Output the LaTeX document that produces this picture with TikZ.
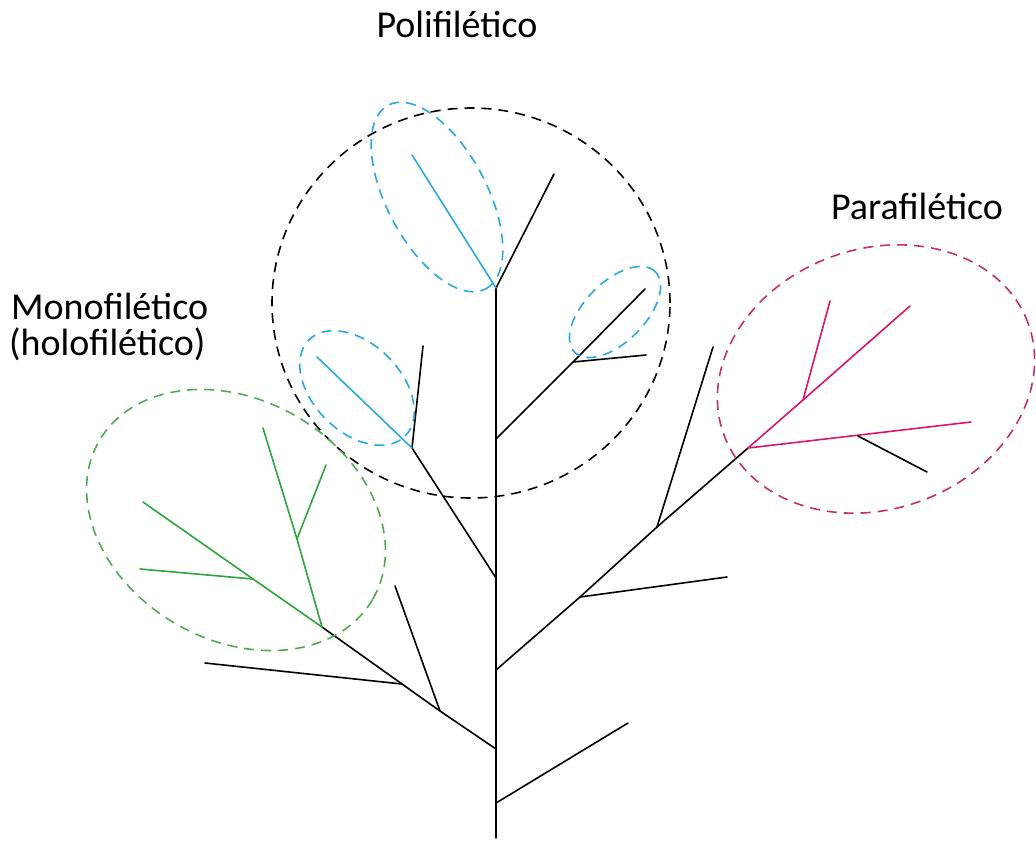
\documentclass[tikz,border=0pt]{standalone}
\usepackage{fontspec}
\setmainfont{Carlito}
\definecolor{cblue}{RGB}{40,170,225}
\definecolor{cgreen}{RGB}{45,165,60}
\definecolor{cmag}{RGB}{220,20,110}
\definecolor{cgreend}{RGB}{80,170,85}
\definecolor{cmagd}{RGB}{200,45,105}
\begin{document}
\begin{tikzpicture}[x=1pt,y=-1pt,
  branch/.style={line width=1.6pt, line cap=round},
  ring/.style={line width=1.6pt, dash pattern=on 10pt off 7pt},
  lbl/.style={font=\fontsize{38}{44}\selectfont, inner sep=0pt}]
\useasboundingbox (0,0) rectangle (1036,841);
% trunk
\coordinate (top) at (496,288);
\coordinate (bot) at (496,838);
\coordinate (t1) at (496,439);
\coordinate (t2) at (496,578);
\coordinate (t3) at (496,670);
\coordinate (t4) at (496,749);
\coordinate (t5) at (496,803);
\draw[branch] (top) -- (bot);
% top
\coordinate (ur) at (554,174);
\coordinate (bl1) at (412,155);
\draw[branch] (top) -- (ur);
\draw[branch,cblue] (top) -- (bl1);
% right upper branch
\coordinate (r1j) at (573,362);
\coordinate (r1e) at (645,289);
\coordinate (r1s) at (646,355);
\draw[branch] (t1) -- (r1j) -- (r1e);
\draw[branch] (r1j) -- (r1s);
% left upper branch
\coordinate (l1j) at (412,448);
\coordinate (l1u) at (423,346);
\coordinate (bl2) at (317,357);
\draw[branch] (t2) -- (l1j) -- (l1u);
\draw[branch,cblue] (l1j) -- (bl2);
% right lower branch
\coordinate (r2a) at (580,597);
\coordinate (r2as) at (727,577);
\coordinate (r2b) at (657,527);
\coordinate (r2bs) at (713,347);
\coordinate (mj) at (748,448);
\draw[branch] (t3) -- (r2a) -- (r2b) -- (mj);
\draw[branch] (r2a) -- (r2as);
\draw[branch] (r2b) -- (r2bs);
% magenta clade
\coordinate (m1) at (971,422);
\coordinate (m1j) at (858,436);
\coordinate (m1s) at (927,472);
\coordinate (m2j) at (803,400);
\coordinate (m2a) at (910,306);
\coordinate (m2b) at (830,301);
\draw[branch,cmag] (mj) -- (m1);
\draw[branch] (m1j) -- (m1s);
\draw[branch,cmag] (mj) -- (m2j) -- (m2a);
\draw[branch,cmag] (m2j) -- (m2b);
% left lower branch
\coordinate (l2a) at (440,711);
\coordinate (l2as) at (395,586);
\coordinate (l2b) at (402,684);
\coordinate (l2bs) at (205,663);
\coordinate (gj) at (322,627);
\draw[branch] (t4) -- (l2a) -- (l2b) -- (gj);
\draw[branch] (l2a) -- (l2as);
\draw[branch] (l2b) -- (l2bs);
% green clade
\coordinate (g1j) at (297,539);
\coordinate (g1e) at (263,428);
\coordinate (g1s) at (326,465);
\coordinate (g2j) at (253,579);
\coordinate (g2e) at (143,502);
\coordinate (g2s) at (140,569);
\draw[branch,cgreen] (gj) -- (g1j) -- (g1e);
\draw[branch,cgreen] (g1j) -- (g1s);
\draw[branch,cgreen] (gj) -- (g2j) -- (g2e);
\draw[branch,cgreen] (g2j) -- (g2s);
% bottom branch
\coordinate (b1) at (628,723);
\draw[branch] (t5) -- (b1);
% rings
\draw[ring] (471,303) ellipse [x radius=199pt, y radius=195pt];
\draw[ring,cblue,rotate around={-62:(437,197)}] (437,197) ellipse [x radius=104pt, y radius=50pt];
\draw[ring,cblue,rotate around={-45:(357,388)}] (357,388) ellipse [x radius=68pt, y radius=44pt];
\draw[ring,cblue,rotate around={45:(615,312)}] (615,312) ellipse [x radius=57pt, y radius=30pt];
\draw[ring,cgreend,rotate around={-30:(236,520)}] (236,520) ellipse [x radius=158pt, y radius=120pt];
\draw[ring,cmagd,rotate around={20:(876,379)}] (876,379) ellipse [x radius=162pt, y radius=130pt];
% labels
\node[lbl,anchor=base] (poli) at (457,37) {Polifilético};
\node[lbl,anchor=base] (para) at (917,219) {Parafilético};
\node[lbl,anchor=base west] (mono) at (11,319) {Monofilético};
\node[lbl,anchor=base west] (holo) at (9,355) {(holofilético)};
\end{tikzpicture}
\end{document}
